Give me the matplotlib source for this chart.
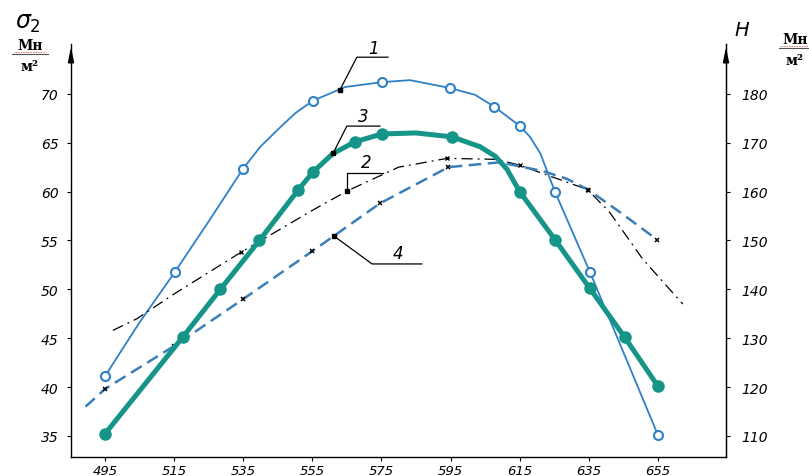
import matplotlib
matplotlib.use("Agg")
import matplotlib.pyplot as plt

# ---------------- data ----------------
x_ticks = [495, 515, 535, 555, 575, 595, 615, 635, 655]
y_left_ticks = [35, 40, 45, 50, 55, 60, 65, 70]
y_right_ticks = [110, 120, 130, 140, 150, 160, 170, 180]

# curve 1 (thin blue, open circles)
s1_mx = [495, 515.3, 534.9, 555.2, 575.2, 594.8, 607.6, 615.1, 625.2, 635.3, 655]
s1_my = [41.1, 51.8, 62.3, 69.3, 71.2, 70.6, 68.7, 66.7, 60.0, 51.8, 35.1]
s1_cx = [495, 505, 515.3, 525.5, 534.9, 540, 545.2, 550, 555.2, 564.5, 575.2, 583.3, 594.8, 602.1,
         607.6, 615.1, 618, 621, 625.2, 635.3, 655]
s1_cy = [41.1, 46.6, 51.8, 57.2, 62.3, 64.6, 66.4, 68.0, 69.3, 70.7, 71.2, 71.4, 70.6, 69.9,
         68.7, 66.7, 65.6, 63.9, 60.0, 51.8, 35.1]

# curve 2 (thin black dash-dot)
s2_cx = [497.3, 504.3, 514.9, 534.4, 554.6, 565.3, 580, 594, 608.4, 615, 634.7, 641, 650.6, 662.2]
s2_cy = [45.8, 47.0, 49.5, 53.8, 58.0, 60.1, 62.5, 63.4, 63.3, 62.7, 60.2, 57.9, 53.1, 48.5]
s2_mx = [534.4, 594, 615, 634.7]
s2_my = [53.8, 63.4, 62.7, 60.2]

# curve 3 (thick teal, filled circles)
s3_mx = [495, 517.5, 528.4, 539.7, 551, 555.2, 567.4, 575.2, 595.4, 615, 625.2, 635.3, 645.4, 655]
s3_my = [35.2, 45.1, 50.0, 55.0, 60.2, 62.0, 65.1, 65.9, 65.6, 60.0, 55.1, 50.1, 45.1, 40.1]
s3_cx = [495, 517.5, 528.4, 539.7, 551, 555.2, 561, 567.4, 575.2, 585, 595.4, 603.5, 608, 611.3,
         615, 625.2, 635.3, 645.4, 655]
s3_cy = [35.2, 45.1, 50.0, 55.0, 60.2, 62.0, 63.9, 65.1, 65.9, 66.0, 65.6, 64.6, 63.6, 62.3,
         60.0, 55.1, 50.1, 45.1, 40.1]

# curve 4 (blue dashed, x markers)
s4_cx = [489.4, 495, 515, 535, 555, 574.6, 594.4, 609.3, 621.7, 628.7, 634.8, 644, 654.7]
s4_cy = [38.0, 39.8, 44.2, 49.0, 53.9, 58.8, 62.5, 63.0, 62.1, 61.3, 60.2, 57.9, 55.1]
s4_mx = [495, 515, 535, 555, 574.6, 594.4, 634.8, 654.7]
s4_my = [39.8, 44.2, 49.0, 53.9, 58.8, 62.5, 60.2, 55.1]

curve_labels = ["1", "2", "3", "4"]

# ---------------- figure ----------------
W, H = 809, 477
fig = plt.figure(figsize=(W / 100, H / 100), dpi=100)
AX_TOP, AX_BOT = 45, 458
ax = fig.add_axes([71 / W, 1 - AX_BOT / H, (726 - 71) / W, (AX_BOT - AX_TOP) / H])

XLIM = (485.2, 674.7)
YLIM = (32.85, 75.1)
ax.set_xlim(*XLIM)
ax.set_ylim(*YLIM)

blue = "#2f80c8"
teal = "#159488"
blue_d = "#3a7fb8"

ax.plot(s1_cx, s1_cy, color=blue, lw=1.3, zorder=3)
ax.plot(s1_mx, s1_my, ls="none", marker="o", ms=6.5, mfc="white", mec=blue, mew=1.5, zorder=4)

ax.plot(s2_cx, s2_cy, color="black", lw=0.9, ls=(0, (9, 4, 1.5, 4)), zorder=3)
ax.plot(s2_mx, s2_my, ls="none", marker="x", ms=3.5, color="black", mew=1.0, zorder=4)

ax.plot(s4_cx, s4_cy, color=blue_d, lw=1.8, ls=(0, (5, 2.6)), zorder=3)
ax.plot(s4_mx, s4_my, ls="none", marker="x", ms=3.5, color="black", mew=1.1, zorder=4)

ax.plot(s3_cx, s3_cy, color=teal, lw=3.6, zorder=5, solid_capstyle="round")
ax.plot(s3_mx, s3_my, ls="none", marker="o", ms=8, color=teal, zorder=6)

# leaders with labels
leaders = [
    ((563, 70.4), (567.9, 73.75), 576.9, (572.6, 74.7)),
    ((565, 60.05), (565, 61.9), 575.4, (570.5, 63.0)),
    ((561, 63.9), (565, 66.7), 574.6, (569.9, 67.7)),
    ((561.3, 55.45), (572.3, 52.6), 586.7, (579.8, 53.7)),
]
for lab, (p, e, xe, t) in zip(curve_labels, leaders):
    ax.plot([p[0], e[0], xe], [p[1], e[1], e[1]], color="black", lw=0.9, zorder=7)
    ax.plot([p[0]], [p[1]], marker="s", ms=3, color="black", zorder=8)
    ax.text(t[0], t[1], lab, fontsize=12, style="italic", ha="center", va="center", zorder=8)

# spines
ax.spines["top"].set_visible(False)
for s in ["left", "right", "bottom"]:
    ax.spines[s].set_linewidth(1.0)

ax.set_xticks(x_ticks)
ax.set_xticklabels([str(v) for v in x_ticks], fontsize=9.5, style="italic")
ax.set_yticks(y_left_ticks)
ax.set_yticklabels([str(v) for v in y_left_ticks], fontsize=10, style="italic")
ax.tick_params(axis="x", length=3, pad=2)
ax.tick_params(axis="y", length=3, pad=6)

ax2 = ax.twinx()
ax2.set_ylim(2 * YLIM[0] + 40, 2 * YLIM[1] + 40)
ax2.set_yticks(y_right_ticks)
ax2.set_yticklabels([str(v) for v in y_right_ticks], fontsize=10, style="italic")
ax2.tick_params(axis="y", length=3, pad=8)
for s in ["top", "left", "bottom"]:
    ax2.spines[s].set_visible(False)

# axis arrows
for xa in (0, 1):
    ax.annotate("", xy=(xa, 1.0), xytext=(xa, 0.955), xycoords="axes fraction",
                arrowprops=dict(arrowstyle="-|>,head_length=0.9,head_width=0.18",
                                color="black", lw=1.0), annotation_clip=False)

# axis titles / units
def fx(px):
    return px / W
def fy(py):
    return 1 - py / H

fig.text(fx(28), fy(23), r"$\sigma_2$", fontsize=17, ha="center", va="center",
         family="DejaVu Serif", fontweight="bold")
fig.text(fx(30), fy(46), "Мн", fontsize=10, ha="center", va="center",
         family="DejaVu Serif", fontweight="bold")
fig.lines.append(plt.Line2D([fx(12), fx(48)], [fy(55), fy(55)], color="#555555", lw=0.8,
                            transform=fig.transFigure))
fig.lines.append(plt.Line2D([fx(14), fx(46)], [fy(53), fy(53)], color="#d04040", lw=0.6,
                            ls=(0, (1, 1)), transform=fig.transFigure))
fig.text(fx(30), fy(67), "м²", fontsize=10, ha="center", va="center",
         family="DejaVu Serif", fontweight="bold")

fig.text(fx(742), fy(30), "H", fontsize=14, ha="center", va="center", style="italic",
         family="DejaVu Sans", fontweight="light")
fig.text(fx(795), fy(40), "Мн", fontsize=10, ha="center", va="center",
         family="DejaVu Serif", fontweight="bold")
fig.lines.append(plt.Line2D([fx(779), fx(809)], [fy(49), fy(49)], color="#555555", lw=0.8,
                            transform=fig.transFigure))
fig.lines.append(plt.Line2D([fx(780), fx(808)], [fy(47), fy(47)], color="#d04040", lw=0.6,
                            ls=(0, (1, 1)), transform=fig.transFigure))
fig.text(fx(795), fy(61), "м²", fontsize=10, ha="center", va="center",
         family="DejaVu Serif", fontweight="bold")

fig.savefig("out.png", dpi=100)
